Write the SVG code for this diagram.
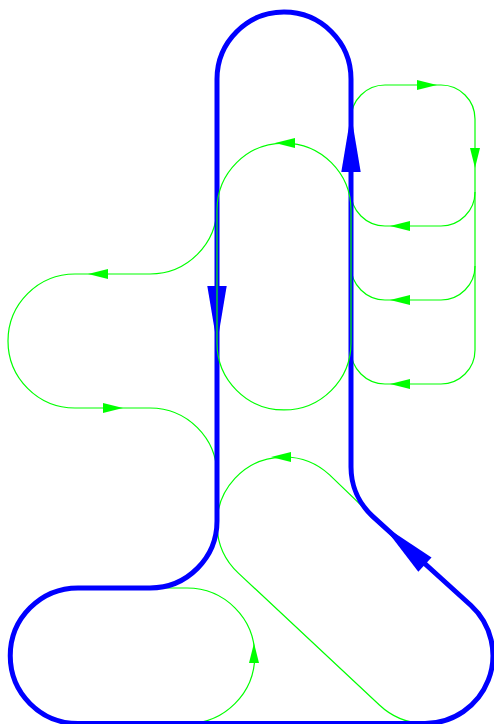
<svg xmlns="http://www.w3.org/2000/svg" width="494" height="724" viewBox="0 0 494 724">
<style>
.b{fill:none;stroke:#0000ff;stroke-width:5}
.g{fill:none;stroke:#00ff00;stroke-width:1.2}
.ga{fill:#00ff00}
.ba{fill:#0000ff}
</style>
<defs>
<path id="ga" d="M0,0 L-20,-5 L-20,5 Z"/>
<path id="ba" d="M0,0 L-58,-9.7 L-58,9.7 Z"/>
</defs>
<rect width="494" height="724" fill="#ffffff"/>
<g id="green-tracks">
<path class="g" d="M351,119 A34,34 0 0 1 385,85 L441,85 A34,34 0 0 1 475,119 L475,350 A34,34 0 0 1 441,384 L385,384 A34,34 0 0 1 351,350"/>
<path class="g" d="M475,192 A34,34 0 0 1 441,226 L385,226 A34,34 0 0 1 351,192"/>
<path class="g" d="M475,266 A34,34 0 0 1 441,300 L385,300 A34,34 0 0 1 351,266"/>
<path class="g" d="M217,207 A67,67 0 0 1 150,274 L75,274 A67,67 0 0 0 75,408 L150,408 A67,67 0 0 1 217,475"/>
<path class="g" d="M372.4,516.1 L329.6,474.9 A67,67 0 1 0 238.4,573.1 L379.4,705 A68,68 0 0 0 425,723.5"/>
<path class="g" d="M150,588 L187,588 A67.7,67.7 0 0 1 187,723.5"/>
</g>
<g id="blue-track">
<path class="b" d="M217,521 L217,79 A67,67 0 0 1 351,79 L351,467 A67,67 0 0 0 372.4,516.1 L471,605.5 A68,68 0 0 1 425,723.5 L78,723.5 A67.75,67.75 0 0 1 78,588 L150,588 A67,67 0 0 0 217,521 Z"/>
<use href="#ba" class="ba" transform="translate(351,114) rotate(-90)"/>
<use href="#ba" class="ba" transform="translate(217,344) rotate(90)"/>
<use href="#ba" class="ba" transform="translate(382.5,525) rotate(-137)"/>
</g>
<g id="green-oval">
<path class="g" d="M217,210 A67,67 0 0 1 351,210 L351,343 A67,67 0 0 1 217,343 Z"/>
</g>
<g id="green-arrows">
<use href="#ga" class="ga" transform="translate(437,85)"/>
<use href="#ga" class="ga" transform="translate(475,168) rotate(90)"/>
<use href="#ga" class="ga" transform="translate(390,226) rotate(180)"/>
<use href="#ga" class="ga" transform="translate(390,300) rotate(180)"/>
<use href="#ga" class="ga" transform="translate(390,384) rotate(180)"/>
<use href="#ga" class="ga" transform="translate(275,143) rotate(180)"/>
<use href="#ga" class="ga" transform="translate(88,274) rotate(180)"/>
<use href="#ga" class="ga" transform="translate(123,408)"/>
<use href="#ga" class="ga" transform="translate(271,457) rotate(180)"/>
<use href="#ga" class="ga" transform="translate(254,643) rotate(-90)"/>
</g>
</svg>
